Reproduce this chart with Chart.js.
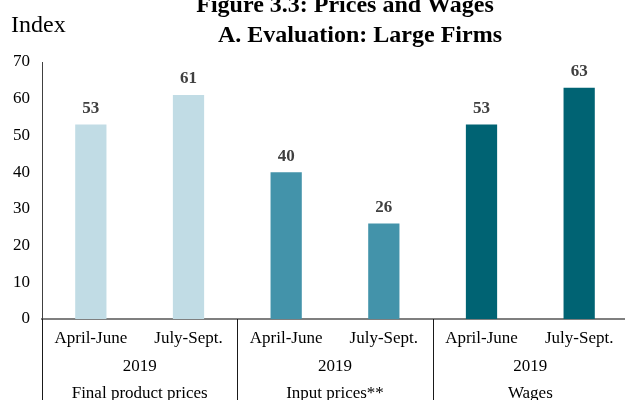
<!DOCTYPE html>
<html><head><meta charset="utf-8">
<script src="https://cdn.jsdelivr.net/npm/chart.js@4/dist/chart.umd.min.js"></script>
<style>html,body{margin:0;padding:0;overflow:hidden;background:#fff;width:625px;height:400px}</style>
</head><body>
<canvas id="c" width="628" height="400"></canvas>
<script>
const periods = ['April-June','July-Sept.','April-June','July-Sept.','April-June','July-Sept.'];
const years = ['2019','2019','2019'];
const groups = ['Final product prices','Input prices**','Wages'];
const values = [53, 61, 40, 26, 53, 63];
const groupColors = ['#c1dce5', '#4393aa', '#006373'];
const titleLines = ['Figure 3.3: Prices and Wages', 'A. Evaluation: Large Firms'];
const yAxisLabel = 'Index';

const barColors = values.map((v, i) => groupColors[Math.floor(i / 2)]);
const SERIF = '"Liberation Serif", "Times New Roman", serif';

const overlay = {
  id: 'overlay',
  afterDraw(chart) {
    const ctx = chart.ctx, x = chart.scales.x, area = chart.chartArea;
    ctx.save();
    // data labels
    ctx.font = 'bold 17px ' + SERIF;
    ctx.fillStyle = '#404040';
    ctx.textAlign = 'center';
    ctx.textBaseline = 'middle';
    const meta = chart.getDatasetMeta(0);
    meta.data.forEach((bar, i) => {
      ctx.fillText(String(values[i]), bar.x, bar.y - 16);
    });
    // separators
    ctx.strokeStyle = '#1a1a1a';
    ctx.lineWidth = 1;
    const bounds = [area.left];
    for (let g = 1; g < groups.length; g++) {
      bounds.push((x.getPixelForValue(2 * g - 1) + x.getPixelForValue(2 * g)) / 2);
    }
    bounds.forEach(b => {
      const bx = Math.round(b) + 0.5;
      ctx.beginPath(); ctx.moveTo(bx, area.bottom); ctx.lineTo(bx, chart.height); ctx.stroke();
    });
    // category labels
    ctx.fillStyle = '#000';
    ctx.font = '17px ' + SERIF;
    periods.forEach((p, i) => ctx.fillText(p, x.getPixelForValue(i), area.bottom + 20));
    groups.forEach((g, k) => {
      const cx = (x.getPixelForValue(2 * k) + x.getPixelForValue(2 * k + 1)) / 2;
      ctx.fillText(years[k], cx, area.bottom + 48);
      ctx.fillText(g, cx, area.bottom + 75);
    });
    // titles
    ctx.textBaseline = 'alphabetic';
    ctx.font = 'bold 24px ' + SERIF;
    ctx.fillText(titleLines[0], 345, 12);
    ctx.fillText(titleLines[1], 360, 42);
    ctx.font = '24px ' + SERIF;
    ctx.textAlign = 'left';
    ctx.fillText(yAxisLabel, 11, 32);
    ctx.restore();
  }
};

new Chart(document.getElementById('c'), {
  type: 'bar',
  data: {
    labels: periods,
    datasets: [{ data: values, backgroundColor: barColors, barPercentage: 0.32, categoryPercentage: 1, borderWidth: 0 }]
  },
  options: {
    responsive: false,
    animation: false,
    devicePixelRatio: 1,
    layout: { padding: { top: 62, left: 0, right: 0, bottom: 0 } },
    plugins: { legend: { display: false }, tooltip: { enabled: false }, title: { display: false } },
    scales: {
      x: {
        grid: { display: false, drawTicks: false },
        border: { display: true, color: '#7f7f7f', width: 2 },
        ticks: { display: false },
        afterFit(s) { s.height = 81; }
      },
      y: {
        min: 0, max: 70,
        ticks: { stepSize: 10, font: { family: SERIF, size: 17 }, color: '#000', padding: 12 },
        grid: { display: false, drawTicks: false },
        border: { display: true, color: '#404040', width: 1 },
        afterFit(s) { s.width = 42; }
      }
    }
  },
  plugins: [overlay]
});
</script>
</body></html>
